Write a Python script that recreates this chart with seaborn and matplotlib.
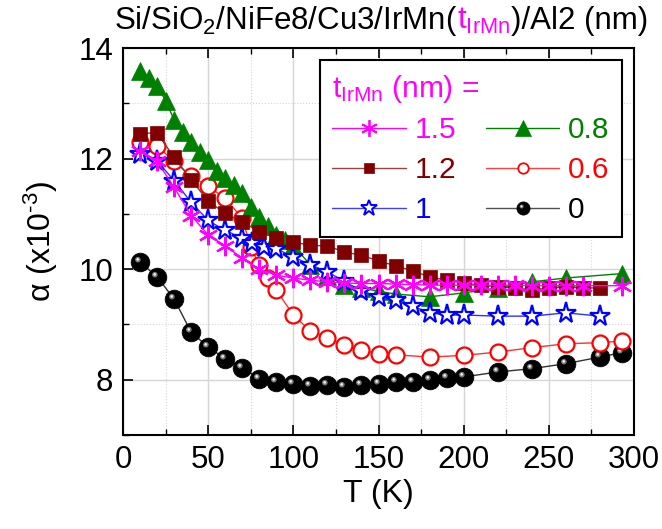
import numpy as np
import pandas as pd
import matplotlib
matplotlib.use("Agg")
import matplotlib.pyplot as plt
import seaborn as sns
from matplotlib.lines import Line2D
from matplotlib.path import Path
from matplotlib.legend_handler import HandlerTuple
from matplotlib.offsetbox import TextArea, HPacker, AnchoredOffsetbox
from matplotlib.ticker import MultipleLocator

# ---------------- data ----------------
T_15 = [10, 20, 30, 40, 50, 60, 70, 80, 90, 100, 110, 120, 130, 140, 150, 160, 170,
        180, 190, 200, 210, 220, 230, 240, 250, 260, 270, 293]
a_15 = [12.14, 11.95, 11.48, 10.97, 10.62, 10.42, 10.20, 10.00, 9.89, 9.84, 9.80, 9.77,
        9.75, 9.74, 9.74, 9.73, 9.72, 9.71, 9.71, 9.71, 9.71, 9.71, 9.71, 9.70, 9.70,
        9.70, 9.70, 9.70]

T_12 = [10, 20, 30, 40, 50, 60, 70, 80, 90, 100, 110, 120, 130, 140, 150, 160, 170,
        180, 190, 200, 210, 220, 230, 240, 250, 260, 270, 280]
a_12 = [12.45, 12.47, 12.02, 11.62, 11.23, 11.01, 10.85, 10.68, 10.56, 10.49, 10.43,
        10.42, 10.31, 10.25, 10.15, 10.06, 9.97, 9.86, 9.80, 9.75, 9.71, 9.68, 9.66,
        9.62, 9.66, 9.67, 9.66, 9.66]

T_10 = [10, 20, 30, 40, 50, 60, 70, 76, 83, 90, 100, 110, 120, 130, 140, 150, 160,
        170, 180, 190, 200, 220, 240, 260, 280]
a_10 = [12.09, 11.96, 11.60, 11.21, 10.88, 10.70, 10.56, 10.47, 10.40, 10.37, 10.22,
        10.08, 9.95, 9.78, 9.60, 9.50, 9.44, 9.33, 9.21, 9.17, 9.17, 9.15, 9.15, 9.21,
        9.15]

T_08 = [10, 15, 20, 25, 30, 35, 40, 45, 50, 55, 60, 65, 70, 75, 80, 85, 90, 95, 100,
        110, 120, 130, 140, 150, 160, 180, 200, 220, 240, 260, 293]
a_08 = [13.58, 13.45, 13.32, 13.05, 12.70, 12.48, 12.30, 12.12, 11.97, 11.78, 11.65,
        11.52, 11.38, 11.12, 10.95, 10.78, 10.62, 10.52, 10.42, 10.08, 9.87, 9.72, 9.66,
        9.60, 9.55, 9.50, 9.57, 9.66, 9.77, 9.84, 9.92]

T_06 = [10, 20, 30, 40, 50, 60, 70, 75, 80, 85, 90, 100, 110, 120, 130, 140, 150, 160,
        180, 200, 220, 240, 260, 280, 293]
a_06 = [12.30, 12.23, 11.95, 11.68, 11.50, 11.28, 10.92, 10.40, 10.07, 9.84, 9.62,
        9.17, 8.88, 8.76, 8.62, 8.54, 8.47, 8.45, 8.41, 8.44, 8.50, 8.58, 8.65, 8.67, 8.70]

T_00 = [10, 20, 30, 40, 50, 60, 70, 80, 90, 100, 110, 120, 130, 140, 150, 160, 170,
        180, 190, 200, 220, 240, 260, 280, 293]
a_00 = [10.13, 9.86, 9.46, 8.86, 8.59, 8.38, 8.22, 8.02, 7.95, 7.93, 7.89, 7.90, 7.87,
        7.90, 7.93, 7.95, 7.96, 8.00, 8.04, 8.05, 8.14, 8.20, 8.29, 8.41, 8.49]

labels = ["1.5", "1.2", "1", "0.8", "0.6", "0"]
x_ticks = [0, 50, 100, 150, 200, 250, 300]
y_ticks = [8, 10, 12, 14]

# ---------------- style ----------------
sns.set_theme(style="white")
plt.rcParams["font.family"] = ["Liberation Sans", "DejaVu Sans"]
plt.rcParams["mathtext.default"] = "regular"
plt.rcParams["text.color"] = "black"
plt.rcParams["axes.labelcolor"] = "black"
plt.rcParams["xtick.color"] = "black"
plt.rcParams["ytick.color"] = "black"

C15, C12, C10, C08, C06, C00 = "#FF00FF", "#800000", "#0000FF", "#008000", "#FF0000", "#000000"

fig = plt.figure(figsize=(6.62, 5.29), dpi=100)
ax = fig.add_axes([123 / 662, 1 - 435 / 529, (634 - 123) / 662, (435 - 48) / 529])

# highlight marker for the shaded balls (spot at upper-left)
def spot(cx, cy, r):
    c = Path.circle(center=(cx, cy), radius=r)
    b = Path([(-1, -1), (1, 1)], [Path.MOVETO, Path.MOVETO])
    return Path.make_compound_path(b, c)

hl1 = spot(-0.28, 0.30, 0.30)
hl2 = spot(-0.30, 0.33, 0.14)

def draw(T, a, color, marker, ms, mfc, mec, mew, lc=None, z=2):
    sns.lineplot(x=T, y=a, ax=ax, sort=False, estimator=None, legend=False,
                 color=lc or color, linewidth=1.0, marker=marker, markersize=ms,
                 markerfacecolor=mfc, markeredgecolor=mec, markeredgewidth=mew,
                 zorder=z)

# black balls
draw(T_00, a_00, C00, "o", 13.5, "#000000", "#000000", 0.5, lc="#303030", z=2)
sns.scatterplot(x=T_00, y=a_00, ax=ax, marker=hl1, s=13.5 ** 2, color="#7a7a7a",
                linewidth=0, zorder=2.1, legend=False)
sns.scatterplot(x=T_00, y=a_00, ax=ax, marker=hl2, s=13.5 ** 2, color="#f2f2f2",
                linewidth=0, zorder=2.2, legend=False)
draw(T_06, a_06, C06, "o", 11.5, "white", C06, 1.6, lc="#FF3030", z=3)
draw(T_08, a_08, C08, "^", 13, C08, C08, 0.5, z=4)
draw(T_10, a_10, C10, "*", 15.5, "white", C10, 1.6, lc="#3030FF", z=5)
draw(T_12, a_12, C12, "s", 10.5, C12, C12, 0.5, lc="#903030", z=6)
draw(T_15, a_15, C15, (6, 2, 0), 14, C15, C15, 1.6, z=7)

# ---------------- axes ----------------
ax.set_xlim(0, 300)
ax.set_ylim(7, 14)
ax.set_xticks(x_ticks)
ax.set_yticks(y_ticks)
ax.xaxis.set_minor_locator(MultipleLocator(25))
ax.yaxis.set_minor_locator(MultipleLocator(1))
ax.tick_params(which="both", direction="in", top=True, right=False, bottom=True,
               left=True, color="black", labelcolor="black", labelsize=22.5, pad=7)
ax.tick_params(which="major", length=7, width=1.2)
ax.tick_params(which="minor", length=4, width=1.0)
ax.grid(True, which="major", color="#d6d6d6", linewidth=1.0, linestyle="-")
ax.grid(True, which="minor", color="#d6d6d6", linewidth=0.8, linestyle=":")
ax.set_axisbelow(True)
for s in ax.spines.values():
    s.set_color("black")
    s.set_linewidth(1.5)

ax.set_xlabel("T (K)", fontsize=23, labelpad=3, color="black")
ax.set_ylabel("α (x10$^{\u20103}$)", fontsize=23, labelpad=13, color="black")

# ---------------- title with coloured part ----------------
tp = dict(fontsize=22.5, color="black")
tm = dict(fontsize=22.5, color=C15)
parts = [TextArea("Si/SiO$_2$/NiFe8/Cu3/IrMn(", textprops=tp),
         TextArea("t$_{IrMn}$", textprops=tm),
         TextArea(")/Al2 (nm)", textprops=tp)]
box = HPacker(children=parts, align="baseline", pad=0, sep=0)
anch = AnchoredOffsetbox(loc="lower center", child=box, frameon=False,
                         bbox_to_anchor=(0.505, 1.025), bbox_transform=ax.transAxes,
                         borderpad=0, pad=0)
ax.add_artist(anch)

# ---------------- legend ----------------
def h(color, marker, ms, mfc, mec, mew, lc=None):
    return Line2D([], [], color=lc or color, linewidth=1.0, marker=marker,
                  markersize=ms, markerfacecolor=mfc, markeredgecolor=mec,
                  markeredgewidth=mew)

ball = h(C00, "o", 9.5, "#000000", "#000000", 0.5, lc="#505050")
ball_hl1 = Line2D([], [], linestyle="none", marker=hl1, markersize=9.5,
                  markerfacecolor="#7a7a7a", markeredgewidth=0)
ball_hl2 = Line2D([], [], linestyle="none", marker=hl2, markersize=9.5,
                  markerfacecolor="#f2f2f2", markeredgewidth=0)
handles = [h(C15, (6, 2, 0), 12, C15, C15, 1.3),
           h(C12, "s", 7.5, C12, C12, 0.5, lc="#a04040"),
           h(C10, "*", 12, "white", C10, 1.4, lc="#4040FF"),
           h(C08, "^", 11, C08, C08, 0.5),
           h(C06, "o", 7.5, "white", C06, 1.3, lc="#FF4040"),
           (ball, ball_hl1, ball_hl2)]
leg = ax.legend(handles, labels, ncol=2, loc="upper right",
                bbox_to_anchor=(0.977, 0.969), borderaxespad=0,
                title="t$_{IrMn}$ (nm) =", alignment="left",
                fontsize=21.5, title_fontsize=21.5, frameon=True, fancybox=False,
                edgecolor="black", framealpha=1, handlelength=2.45,
                handletextpad=0.3, columnspacing=1.0, labelspacing=0.4,
                borderpad=0.42,
                labelcolor=[C15, C12, C10, C08, C06, C00],
                handler_map={tuple: HandlerTuple(ndivide=1, pad=0)})
leg.get_title().set_color(C15)
leg.get_frame().set_linewidth(1.5)
leg.set_zorder(10)

fig.savefig("out.png", dpi=100)
